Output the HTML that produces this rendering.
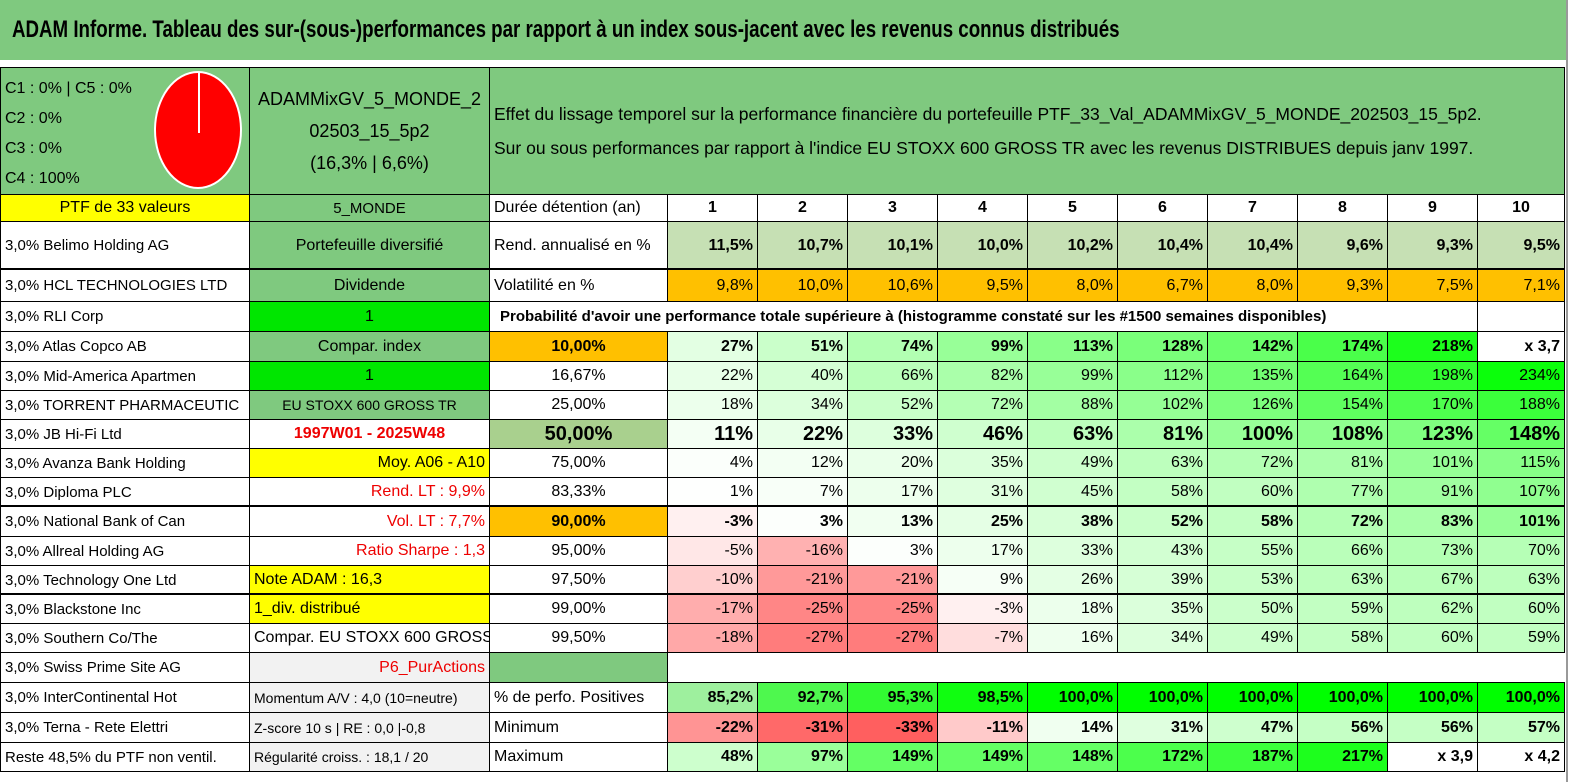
<!DOCTYPE html>
<html><head><meta charset="utf-8">
<style>
html,body{margin:0;padding:0;background:#fff;}
#root{position:relative;width:1569px;height:782px;overflow:hidden;font-family:"Liberation Sans Narrow","Liberation Sans",sans-serif;color:#000;}
.c{position:absolute;box-sizing:border-box;border-right:1px solid #000;border-bottom:1px solid #000;display:flex;align-items:center;white-space:nowrap;overflow:hidden;font-size:16px;padding:0 4px;}
.l{justify-content:flex-start}.m{justify-content:center}.r{justify-content:flex-end}
</style></head>
<body>
<div id="root"></div>
<script>
// ---- data ----
const years = ["1","2","3","4","5","6","7","8","9","10"];
const rendAnnual = [11.5,10.7,10.1,10.0,10.2,10.4,10.4,9.6,9.3,9.5];
const volatility = [9.8,10.0,10.6,9.5,8.0,6.7,8.0,9.3,7.5,7.1];
const probLevels = ["10,00%","16,67%","25,00%","50,00%","75,00%","83,33%","90,00%","95,00%","97,50%","99,00%","99,50%"];
const probValues = [
 [27,51,74,99,113,128,142,174,218,"x 3,7"],
 [22,40,66,82,99,112,135,164,198,234],
 [18,34,52,72,88,102,126,154,170,188],
 [11,22,33,46,63,81,100,108,123,148],
 [4,12,20,35,49,63,72,81,101,115],
 [1,7,17,31,45,58,60,77,91,107],
 [-3,3,13,25,38,52,58,72,83,101],
 [-5,-16,3,17,33,43,55,66,73,70],
 [-10,-21,-21,9,26,39,53,63,67,63],
 [-17,-25,-25,-3,18,35,50,59,62,60],
 [-18,-27,-27,-7,16,34,49,58,60,59]
];
const pctPositive = [85.2,92.7,95.3,98.5,100,100,100,100,100,100];
const minimum = [-22,-31,-33,-11,14,31,47,56,56,57];
const maximum = [48,97,149,149,148,172,187,217,"x 3,9","x 4,2"];
const holdings = ["3,0% Belimo Holding AG","3,0% HCL TECHNOLOGIES LTD","3,0% RLI Corp","3,0% Atlas Copco AB","3,0% Mid-America Apartmen","3,0% TORRENT PHARMACEUTIC","3,0% JB Hi-Fi Ltd","3,0% Avanza Bank Holding","3,0% Diploma PLC","3,0% National Bank of Can","3,0% Allreal Holding AG","3,0% Technology One Ltd","3,0% Blackstone Inc","3,0% Southern Co/The","3,0% Swiss Prime Site AG","3,0% InterContinental Hot","3,0% Terna - Rete Elettri","Reste 48,5% du PTF non ventil."];

// ---- layout ----
const root = document.getElementById('root');
const colX = [0,250,490,668,758,848,938,1028,1118,1208,1298,1388,1478,1565];
const rowY = [195,222,270,302,332,362,391,420,449,478,507,537,566,595,624,653,683,713,743,772];
const fmt = v => (typeof v === 'string') ? v : (String(v).replace('.', ',') + '%');
const fmt1 = v => v.toFixed(1).replace('.', ',') + '%';
function mix(a,b,t){t=Math.max(0,Math.min(1,t));return 'rgb('+a.map((x,i)=>Math.round(x+(b[i]-x)*t)).join(',')+')';}
function heat(v){
  if (typeof v === 'string') return '#fff';
  if (v < 0) return mix([255,255,255],[255,95,95], -v/33);
  return mix([255,255,255],[0,255,0], v/245);
}
function cell(name,x,y,w,h,text,cls,st){
  const d = document.createElement('div');
  d.className = 'c ' + (cls||'m');
  d.style.left = x+'px'; d.style.top = y+'px'; d.style.width = w+'px'; d.style.height = h+'px';
  if (st) Object.assign(d.style, st);
  d.textContent = text;
  
  
  root.appendChild(d);
  return d;
}
const G='#7fc97f', Y='#ffff00', O='#ffc000', LG='#00e600';

// title
const tb = cell('title-bar',0,0,1566,60,'','l',{background:G,paddingLeft:'12px',border:'none'});
tb.innerHTML='<span style="display:inline-block;font-size:24px;font-weight:bold;transform:scaleX(0.78);transform-origin:left center">ADAM Informe. Tableau des sur-(sous-)performances par rapport à un index sous-jacent avec les revenus connus distribués</span>';
// header block
const hdr = cell('class-breakdown',0,67,250,128,'','l',{background:G,borderTop:'1px solid #000',borderLeft:'1px solid #000',alignItems:'flex-start',flexDirection:'column',fontSize:'16px',lineHeight:'30px',paddingTop:'6px'});
hdr.innerHTML='<div>C1 : 0% | C5 : 0%</div><div>C2 : 0%</div><div>C3 : 0%</div><div>C4 : 100%</div>';
const pie = document.createElement('div');


Object.assign(pie.style,{position:'absolute',left:'154px',top:'71px',width:'88px',height:'118px',borderRadius:'50%',background:'#ff0000',border:'2px solid #fff',boxSizing:'border-box'});
pie.innerHTML='<div style="position:absolute;left:42px;top:0;width:2px;height:60px;background:#fff"></div>';
root.appendChild(pie);
const pn = cell('portfolio-name',250,67,240,128,'','m',{background:G,borderTop:'1px solid #000',flexDirection:'column',fontSize:'18px',lineHeight:'32px',textAlign:'center'});
pn.innerHTML='<div>ADAMMixGV_5_MONDE_2</div><div>02503_15_5p2</div><div>(16,3% | 6,6%)</div>';
const desc = cell('chart-description',490,67,1075,128,'','l',{background:G,borderTop:'1px solid #000',flexDirection:'column',alignItems:'flex-start',justifyContent:'center',fontSize:'17.5px',lineHeight:'34px'});
desc.innerHTML='<div>Effet du lissage temporel sur la performance financière du portefeuille PTF_33_Val_ADAMMixGV_5_MONDE_202503_15_5p2.</div><div>Sur ou sous performances par rapport à l\'indice EU STOXX 600 GROSS TR avec les revenus DISTRIBUES depuis janv 1997.</div>';

// column A
cell('ptf-count',0,195,250,27,'PTF de 33 valeurs','m',{background:Y,borderLeft:'1px solid #000'});
holdings.forEach((h,i)=>{
  cell('holding-'+(i+1),0,rowY[i+1],250,rowY[i+2]-rowY[i+1],h,'l',{borderLeft:'1px solid #000',fontSize:'15px'});
});
// column B
const colB = [
 ['5_MONDE','m',{background:G,fontSize:'15px'}],
 ['Portefeuille diversifié','m',{background:G}],
 ['Dividende','m',{background:G}],
 ['1','m',{background:LG}],
 ['Compar. index','m',{background:G}],
 ['1','m',{background:LG}],
 ['EU STOXX 600 GROSS TR','m',{background:G,fontSize:'14px'}],
 ['1997W01 - 2025W48','m',{color:'#e00',fontWeight:'bold'}],
 ['Moy. A06 - A10','r',{background:Y}],
 ['Rend. LT : 9,9%','r',{color:'#e00'}],
 ['Vol. LT : 7,7%','r',{color:'#e00'}],
 ['Ratio Sharpe : 1,3','r',{color:'#e00'}],
 ['Note ADAM : 16,3','l',{background:Y}],
 ['1_div. distribué','l',{background:Y}],
 ['Compar. EU STOXX 600 GROSS TR','l',{}],
 ['P6_PurActions','r',{background:'#f2f2f2',color:'#e00'}],
 ['Momentum A/V : 4,0 (10=neutre)','l',{background:'#f2f2f2',fontSize:'14px'}],
 ['Z-score 10 s | RE : 0,0 |-0,8','l',{background:'#f2f2f2',fontSize:'14px'}],
 ['Régularité croiss. : 18,1 / 20','l',{background:'#f2f2f2',fontSize:'14px'}]
];
colB.forEach((b,i)=>{ cell('info-cell-'+(i+1),250,rowY[i],240,rowY[i+1]-rowY[i],b[0],b[1],b[2]); });

// row labels (column C)
cell('row-label-duration',490,195,178,27,'Durée détention (an)','l');
cell('row-label-return',490,222,178,48,'Rend. annualisé en %','l');
cell('row-label-volatility',490,270,178,32,'Volatilité en %','l');
cell('prob-title',490,302,988,30,"Probabilité d'avoir une performance totale supérieure à (histogramme constaté sur les #1500 semaines disponibles)",'l',{paddingLeft:'10px',fontWeight:'bold',fontSize:'15px'});
cell('prob-blank-9',1388,302,90,30,'','m');
cell('prob-blank-10',1478,302,87,30,'','m');
const boldRows = [0,3,6];
probLevels.forEach((p,i)=>{
  const st = {};
  if (i===0||i===6) st.background=O;
  if (i===3){st.background='#a9d08e';st.fontSize='20px';}
  if (boldRows.includes(i)) st.fontWeight='bold';
  cell('prob-level-'+(i+1),490,rowY[i+4],178,rowY[i+5]-rowY[i+4],p,'m',st);
});
cell('blank-green',490,653,178,30,'','m',{background:G});
cell('blank-row',668,653,897,30,'','m',{borderRight:'none'});
cell('row-label-positive',490,683,178,30,'% de perfo. Positives','l');
cell('row-label-min',490,713,178,30,'Minimum','l');
cell('row-label-max',490,743,178,29,'Maximum','l');

// numeric grid
years.forEach((yv,j)=>{
  const x=colX[j+3], w=colX[j+4]-x;
  cell('year-'+yv,x,195,w,27,yv,'m',{fontWeight:'bold'});
  cell('return-'+yv,x,222,w,48,fmt1(rendAnnual[j]),'r',{background:'#c6e0b4',fontWeight:'bold'});
  cell('volatility-'+yv,x,270,w,32,fmt1(volatility[j]),'r',{background:O});
  probValues.forEach((row,i)=>{
    const st={background:heat(row[j])};
    if (boldRows.includes(i)) st.fontWeight='bold';
    if (i===3) st.fontSize='20px';
    cell('prob-'+(i+1)+'-y'+yv,x,rowY[i+4],w,rowY[i+5]-rowY[i+4],fmt(row[j]),'r',st);
  });
  cell('positive-'+yv,x,683,w,30,fmt1(pctPositive[j]),'r',{background:mix([160,240,160],[0,255,0],(pctPositive[j]-85)/15),fontWeight:'bold'});
  cell('min-'+yv,x,713,w,30,fmt(minimum[j]),'r',{background:heat(minimum[j]),fontWeight:'bold'});
  cell('max-'+yv,x,743,w,29,fmt(maximum[j]),'r',{background:heat(maximum[j]),fontWeight:'bold'});
});
// thick separators
[270,507,595].forEach((y,i)=>{
  const d=document.createElement('div');
  
  
  Object.assign(d.style,{position:'absolute',left:'0',top:(y-2)+'px',width:'1565px',height:'2px',background:'#000'});
  root.appendChild(d);
});
const edge=document.createElement('div');


Object.assign(edge.style,{position:'absolute',left:'1566px',top:'0',width:'2px',height:'782px',background:'#999'});
root.appendChild(edge);
</script>
</body></html>
